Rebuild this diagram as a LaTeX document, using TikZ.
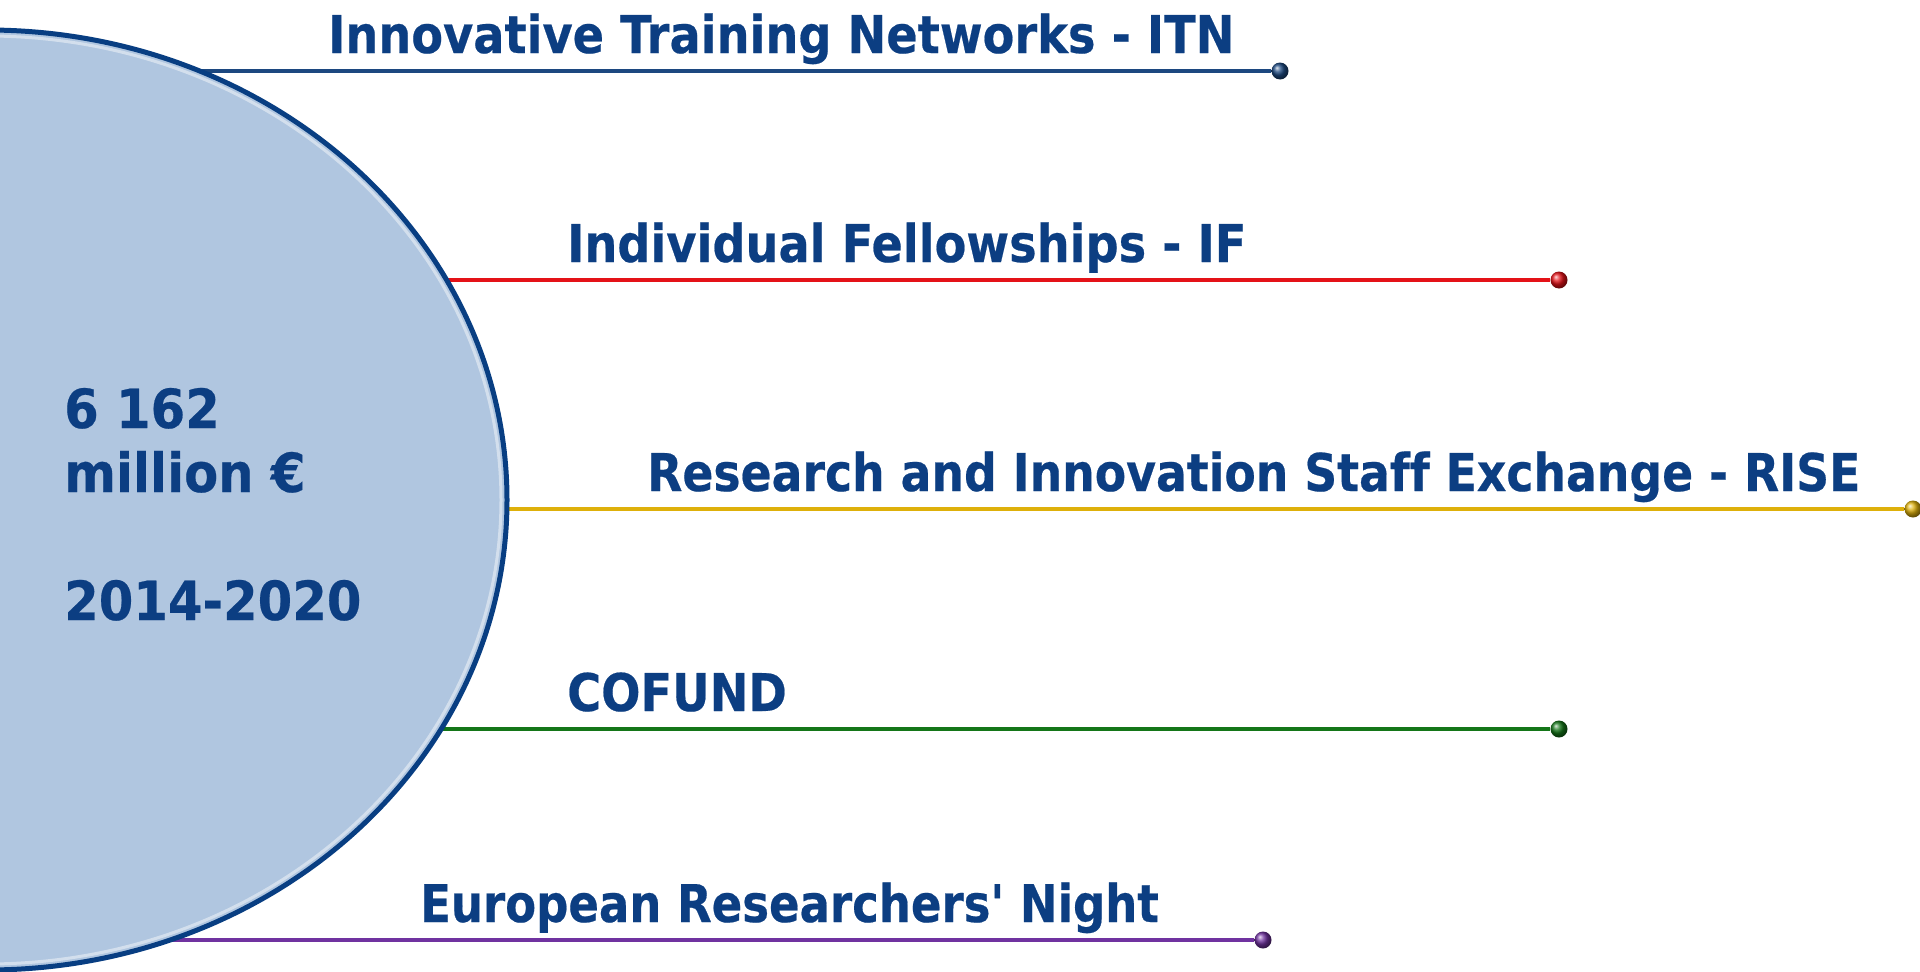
\documentclass[tikz,border=0pt]{standalone}
\usepackage{fontspec}
\newfontfamily\lblfont{DejaVu Sans}[FakeStretch=0.89, FakeBold=0.4, Ligatures=NoCommon]
\newfontfamily\amtfont{DejaVu Sans}[FakeStretch=0.92, FakeBold=0.4, Ligatures=NoCommon]
\usetikzlibrary{shapes.geometric,backgrounds}
\definecolor{txt}{RGB}{12,62,130}
\definecolor{ellfill}{RGB}{176,198,224}
\definecolor{elldraw}{RGB}{8,62,130}
\definecolor{citn}{RGB}{28,72,128}
\definecolor{cif}{RGB}{228,18,24}
\definecolor{crise}{RGB}{222,176,10}
\definecolor{ccof}{RGB}{20,118,24}
\definecolor{cern}{RGB}{112,50,160}
\begin{document}
\begin{tikzpicture}[x=1pt,y=-1pt,
  lbl/.style={anchor=base west, text=txt, inner sep=0pt, font=\lblfont\fontsize{52}{62}\selectfont\bfseries},
  amtline/.style={anchor=base west, text=txt, inner sep=0pt, font=\amtfont\fontsize{54}{64}\selectfont\bfseries},
  conn/.style={line width=4.5pt},
  enddot/.style={circle, inner sep=0pt, minimum size=17pt, shading=ball, ball color=#1},
]
\useasboundingbox (0,0) rectangle (1920,972);
% central ellipse
\node[ellipse, draw=elldraw, line width=5pt, fill=ellfill, minimum width=1040pt, minimum height=940pt, inner sep=0pt] (E) at (-13,500) {};
\node[ellipse, draw=white, draw opacity=0.45, line width=3pt, minimum width=1028pt, minimum height=928pt, inner sep=0pt] (Ein) at (-13,500) {};
% amount text
\node[amtline] (amt1) at (64,428) {6 162};
\node[amtline] (amt2) at (64,492) {million €};
\node[amtline] (amt3) at (64,620) {2014-2020};
% end dots
\node[enddot=citn] (d1) at (1280,71) {};
\node[enddot=cif] (d2) at (1559,280) {};
\node[enddot=crise] (d3) at (1913,509) {};
\node[enddot=ccof] (d4) at (1559,729) {};
\node[enddot=cern] (d5) at (1263,940) {};
% connectors (behind the ellipse)
\begin{scope}[on background layer]
\draw[conn, citn] (E.center |- d1) -- (d1);
\draw[conn, cif] (E.center |- d2) -- (d2);
\draw[conn, crise] (E.center |- d3) -- (d3);
\draw[conn, ccof] (E.center |- d4) -- (d4);
\draw[conn, cern] (E.center |- d5) -- (d5);
\end{scope}
% labels
\node[lbl] (t1) at (328,53) {Innovative Training Networks - ITN};
\node[lbl] (t2) at (567,262) {Individual Fellowships - IF};
\node[lbl] (t3) at (647,491) {\scalebox{0.988}[1]{Research and Innovation Staff Exchange - RISE}};
\node[lbl] (t4) at (567,711) {COFUND};
\node[lbl] (t5) at (420,922) {\scalebox{0.973}[1]{European Researchers' Night}};
\end{tikzpicture}
\end{document}
